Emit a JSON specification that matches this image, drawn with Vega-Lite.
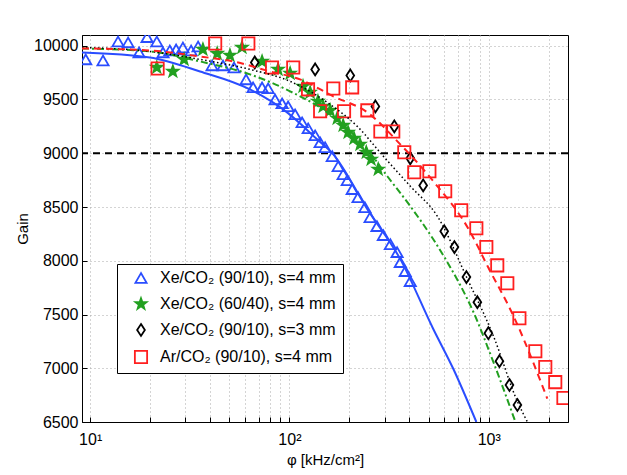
{
  "$schema": "https://vega.github.io/schema/vega-lite/v6.json",
  "width": 486,
  "height": 387,
  "autosize": {"type": "none"},
  "padding": {"left": 82, "top": 35, "right": 59, "bottom": 53},
  "background": "white",
  "config": {
    "font": "Liberation Sans",
    "view": {"stroke": "black", "strokeWidth": 1},
    "axis": {
      "labelFont": "Liberation Sans",
      "titleFont": "Liberation Sans",
      "labelFontSize": 16,
      "titleFontSize": 15,
      "titleFontWeight": "normal",
      "labelColor": "black",
      "titleColor": "black",
      "domainColor": "black",
      "tickColor": "black",
      "tickSize": -5,
      "gridColor": "#a8a8a8",
      "gridDash": [1, 3],
      "gridWidth": 1
    },
    "legend": {
      "labelFont": "Liberation Sans",
      "labelFontSize": 16,
      "labelColor": "black",
      "labelLimit": 400,
      "orient": "none",
      "legendX": 35,
      "legendY": 229,
      "fillColor": "white",
      "strokeColor": "black",
      "padding": 6,
      "rowPadding": 7,
      "symbolOffset": 10,
      "labelOffset": 11,
      "symbolStrokeWidth": 1.8
    }
  },
  "datasets": {
    "pts": [
      {"series": "A", "phi": 9.5, "gain": 9873},
      {"series": "A", "phi": 11.6, "gain": 9863},
      {"series": "A", "phi": 13.8, "gain": 10040},
      {"series": "A", "phi": 15.5, "gain": 10031},
      {"series": "A", "phi": 17.6, "gain": 9938},
      {"series": "A", "phi": 19.3, "gain": 10080},
      {"series": "A", "phi": 21.6, "gain": 10040},
      {"series": "A", "phi": 23.2, "gain": 9938},
      {"series": "A", "phi": 25.1, "gain": 9956},
      {"series": "A", "phi": 27.0, "gain": 9966},
      {"series": "A", "phi": 29.2, "gain": 9984},
      {"series": "A", "phi": 32.1, "gain": 9956},
      {"series": "A", "phi": 34.8, "gain": 9993},
      {"series": "A", "phi": 40.9, "gain": 9817},
      {"series": "A", "phi": 46.4, "gain": 9817},
      {"series": "A", "phi": 52.7, "gain": 9798},
      {"series": "A", "phi": 60.6, "gain": 9687},
      {"series": "A", "phi": 65.7, "gain": 9613},
      {"series": "A", "phi": 72.9, "gain": 9613},
      {"series": "A", "phi": 78.2, "gain": 9604},
      {"series": "A", "phi": 84.7, "gain": 9501},
      {"series": "A", "phi": 91.9, "gain": 9464},
      {"series": "A", "phi": 98.5, "gain": 9436},
      {"series": "A", "phi": 106.8, "gain": 9362},
      {"series": "A", "phi": 115.8, "gain": 9288},
      {"series": "A", "phi": 124.2, "gain": 9232},
      {"series": "A", "phi": 134.6, "gain": 9167},
      {"series": "A", "phi": 142.6, "gain": 9102},
      {"series": "A", "phi": 151, "gain": 9056},
      {"series": "A", "phi": 164, "gain": 8972},
      {"series": "A", "phi": 175.6, "gain": 8879},
      {"series": "A", "phi": 186, "gain": 8805},
      {"series": "A", "phi": 195, "gain": 8749},
      {"series": "A", "phi": 206.5, "gain": 8666},
      {"series": "A", "phi": 221, "gain": 8591},
      {"series": "A", "phi": 239, "gain": 8498},
      {"series": "A", "phi": 254, "gain": 8405},
      {"series": "A", "phi": 275, "gain": 8322},
      {"series": "A", "phi": 296, "gain": 8238},
      {"series": "A", "phi": 321, "gain": 8154},
      {"series": "A", "phi": 347, "gain": 8080},
      {"series": "A", "phi": 360, "gain": 7987},
      {"series": "A", "phi": 381, "gain": 7903},
      {"series": "A", "phi": 404, "gain": 7810},
      {"series": "B", "phi": 21.6, "gain": 9798},
      {"series": "B", "phi": 26.0, "gain": 9761},
      {"series": "B", "phi": 29.6, "gain": 9873},
      {"series": "B", "phi": 36.8, "gain": 9966},
      {"series": "B", "phi": 43.4, "gain": 9928},
      {"series": "B", "phi": 50.3, "gain": 9910},
      {"series": "B", "phi": 57.8, "gain": 9984},
      {"series": "B", "phi": 72.9, "gain": 9854},
      {"series": "B", "phi": 87.7, "gain": 9780},
      {"series": "B", "phi": 100.8, "gain": 9743},
      {"series": "B", "phi": 117, "gain": 9622},
      {"series": "B", "phi": 127, "gain": 9566},
      {"series": "B", "phi": 139, "gain": 9483},
      {"series": "B", "phi": 147.6, "gain": 9436},
      {"series": "B", "phi": 160, "gain": 9399},
      {"series": "B", "phi": 173.6, "gain": 9325},
      {"series": "B", "phi": 186, "gain": 9260},
      {"series": "B", "phi": 197, "gain": 9195},
      {"series": "B", "phi": 211, "gain": 9139},
      {"series": "B", "phi": 226, "gain": 9083},
      {"series": "B", "phi": 243, "gain": 9009},
      {"series": "B", "phi": 257, "gain": 8944},
      {"series": "B", "phi": 279, "gain": 8851},
      {"series": "C", "phi": 67, "gain": 9845},
      {"series": "C", "phi": 134.6, "gain": 9780},
      {"series": "C", "phi": 202, "gain": 9724},
      {"series": "C", "phi": 270, "gain": 9436},
      {"series": "C", "phi": 336, "gain": 9250},
      {"series": "C", "phi": 404, "gain": 8953},
      {"series": "C", "phi": 469, "gain": 8701},
      {"series": "C", "phi": 598, "gain": 8274},
      {"series": "C", "phi": 673, "gain": 8127},
      {"series": "C", "phi": 773, "gain": 7848},
      {"series": "C", "phi": 877, "gain": 7615},
      {"series": "C", "phi": 996, "gain": 7326},
      {"series": "C", "phi": 1132, "gain": 7066},
      {"series": "C", "phi": 1271, "gain": 6844},
      {"series": "C", "phi": 1393, "gain": 6658},
      {"series": "D", "phi": 21.8, "gain": 9789},
      {"series": "D", "phi": 42.4, "gain": 10021},
      {"series": "D", "phi": 62.2, "gain": 10021},
      {"series": "D", "phi": 81.8, "gain": 9798},
      {"series": "D", "phi": 104.5, "gain": 9798},
      {"series": "D", "phi": 124, "gain": 9594},
      {"series": "D", "phi": 142.6, "gain": 9390},
      {"series": "D", "phi": 166, "gain": 9603},
      {"series": "D", "phi": 188, "gain": 9390},
      {"series": "D", "phi": 206.5, "gain": 9613},
      {"series": "D", "phi": 246, "gain": 9399},
      {"series": "D", "phi": 286, "gain": 9203},
      {"series": "D", "phi": 332, "gain": 9203},
      {"series": "D", "phi": 377, "gain": 9009},
      {"series": "D", "phi": 423, "gain": 8824},
      {"series": "D", "phi": 504, "gain": 8833},
      {"series": "D", "phi": 605, "gain": 8647},
      {"series": "D", "phi": 728, "gain": 8470},
      {"series": "D", "phi": 867, "gain": 8303},
      {"series": "D", "phi": 973, "gain": 8127},
      {"series": "D", "phi": 1104, "gain": 7957},
      {"series": "D", "phi": 1240, "gain": 7790},
      {"series": "D", "phi": 1426, "gain": 7465},
      {"series": "D", "phi": 1714, "gain": 7159},
      {"series": "D", "phi": 1923, "gain": 7011},
      {"series": "D", "phi": 2158, "gain": 6871},
      {"series": "D", "phi": 2371, "gain": 6723}
    ],
    "fits": [
      {"fit": "A", "phi": 9.1, "gain": 9938},
      {"fit": "A", "phi": 19.95, "gain": 9891},
      {"fit": "A", "phi": 35.6, "gain": 9761},
      {"fit": "A", "phi": 63.4, "gain": 9594},
      {"fit": "A", "phi": 97.3, "gain": 9380},
      {"fit": "A", "phi": 137.7, "gain": 9130},
      {"fit": "A", "phi": 166, "gain": 8990},
      {"fit": "A", "phi": 246, "gain": 8480},
      {"fit": "A", "phi": 360, "gain": 8015},
      {"fit": "A", "phi": 527, "gain": 7365},
      {"fit": "A", "phi": 664, "gain": 6995},
      {"fit": "A", "phi": 867, "gain": 6500},
      {"fit": "B", "phi": 9.1, "gain": 9975},
      {"fit": "B", "phi": 19.95, "gain": 9947},
      {"fit": "B", "phi": 35.6, "gain": 9854},
      {"fit": "B", "phi": 63.4, "gain": 9734},
      {"fit": "B", "phi": 100.8, "gain": 9576},
      {"fit": "B", "phi": 160, "gain": 9361},
      {"fit": "B", "phi": 246, "gain": 9036},
      {"fit": "B", "phi": 310, "gain": 8786},
      {"fit": "B", "phi": 404, "gain": 8508},
      {"fit": "B", "phi": 527, "gain": 8200},
      {"fit": "B", "phi": 620, "gain": 7987},
      {"fit": "B", "phi": 838, "gain": 7523},
      {"fit": "B", "phi": 1055, "gain": 7059},
      {"fit": "B", "phi": 1362, "gain": 6500},
      {"fit": "C", "phi": 9.1, "gain": 9984},
      {"fit": "C", "phi": 19.95, "gain": 9947},
      {"fit": "C", "phi": 35.6, "gain": 9873},
      {"fit": "C", "phi": 63.4, "gain": 9780},
      {"fit": "C", "phi": 100.8, "gain": 9669},
      {"fit": "C", "phi": 160, "gain": 9454},
      {"fit": "C", "phi": 219, "gain": 9250},
      {"fit": "C", "phi": 296, "gain": 8972},
      {"fit": "C", "phi": 404, "gain": 8694},
      {"fit": "C", "phi": 552, "gain": 8415},
      {"fit": "C", "phi": 782, "gain": 7830},
      {"fit": "C", "phi": 1056, "gain": 7300},
      {"fit": "C", "phi": 1394, "gain": 6690},
      {"fit": "C", "phi": 1565, "gain": 6500},
      {"fit": "D", "phi": 9.1, "gain": 9975},
      {"fit": "D", "phi": 19.95, "gain": 9956},
      {"fit": "D", "phi": 35.6, "gain": 9900},
      {"fit": "D", "phi": 52.2, "gain": 9854},
      {"fit": "D", "phi": 80, "gain": 9761},
      {"fit": "D", "phi": 113, "gain": 9687},
      {"fit": "D", "phi": 166, "gain": 9530},
      {"fit": "D", "phi": 246, "gain": 9380},
      {"fit": "D", "phi": 360, "gain": 9083},
      {"fit": "D", "phi": 527, "gain": 8740},
      {"fit": "D", "phi": 809, "gain": 8266},
      {"fit": "D", "phi": 985, "gain": 7953},
      {"fit": "D", "phi": 1330, "gain": 7488},
      {"fit": "D", "phi": 1968, "gain": 6718}
    ]
  },
  "encoding": {
    "x": {
      "field": "phi",
      "type": "quantitative",
      "scale": {"type": "log", "domain": [9.1, 2500], "nice": false},
      "axis": {
        "title": "φ [kHz/cm²]",
        "values": [10, 20, 30, 40, 50, 60, 70, 80, 90, 100, 200, 300, 400, 500, 600, 700, 800, 900, 1000, 2000],
        "labelExpr": "datum.value == 10 ? '10¹' : datum.value == 100 ? '10²' : datum.value == 1000 ? '10³' : ''",
        "labelPadding": 14,
        "titlePadding": 5,
        "labelFlush": false,
        "labelOverlap": false
      }
    },
    "y": {
      "field": "gain",
      "type": "quantitative",
      "scale": {"domain": [6500, 10100], "nice": false, "zero": false},
      "axis": {
        "title": "Gain",
        "values": [6500, 7000, 7500, 8000, 8500, 9000, 9500, 10000],
        "format": "d",
        "labelPadding": 9,
        "titlePadding": 3
      }
    }
  },
  "layer": [
    {
      "data": {"values": [{"g": 9000}]},
      "mark": {"type": "rule", "color": "black", "strokeWidth": 2, "strokeDash": [7, 5]},
      "encoding": {"y": {"field": "g", "type": "quantitative"}, "x": null}
    },
    {
      "data": {"name": "pts"},
      "mark": {"type": "point", "strokeWidth": 1.8, "opacity": 1, "clip": true},
      "encoding": {
        "shape": {
          "field": "series", "type": "nominal", "title": null,
          "scale": {
            "domain": ["A", "B", "C", "D"],
            "range": ["triangle-up", "M0,-1L0.235,-0.324L0.951,-0.309L0.38,0.124L0.588,0.809L0,0.4L-0.588,0.809L-0.38,0.124L-0.951,-0.309L-0.235,-0.324Z", "M0,-1L0.65,0L0,1L-0.65,0Z", "square"]
          },
          "legend": {
            "labelExpr": "datum.value == 'A' ? 'Xe/CO₂ (90/10), s=4 mm' : datum.value == 'B' ? 'Xe/CO₂ (60/40), s=4 mm' : datum.value == 'C' ? 'Xe/CO₂ (90/10), s=3 mm' : 'Ar/CO₂  (90/10), s=4 mm'"
          }
        },
        "stroke": {
          "field": "series", "type": "nominal", "title": null,
          "scale": {"domain": ["A", "B", "C", "D"], "range": ["#2a4dff", "#22a020", "#000000", "#ff1f1f"]}
        },
        "fill": {
          "field": "series", "type": "nominal", "title": null,
          "scale": {"domain": ["A", "B", "C", "D"], "range": ["transparent", "#22a020", "transparent", "transparent"]}
        },
        "size": {
          "field": "series", "type": "nominal", "title": null,
          "scale": {"domain": ["A", "B", "C", "D"], "range": [125, 150, 40, 80]}
        }
      }
    },
    {
      "data": {"name": "fits"},
      "transform": [{"filter": "datum.fit == 'A'"}],
      "mark": {"type": "line", "color": "#2a4dff", "strokeWidth": 2, "interpolate": "monotone", "clip": true}
    },
    {
      "data": {"name": "fits"},
      "transform": [{"filter": "datum.fit == 'B'"}],
      "mark": {"type": "line", "color": "#22a020", "strokeWidth": 2, "strokeDash": [7, 3, 2, 3], "interpolate": "monotone", "clip": true}
    },
    {
      "data": {"name": "fits"},
      "transform": [{"filter": "datum.fit == 'C'"}],
      "mark": {"type": "line", "color": "black", "strokeWidth": 1.5, "strokeDash": [1.5, 2.5], "interpolate": "monotone", "clip": true}
    },
    {
      "data": {"name": "fits"},
      "transform": [{"filter": "datum.fit == 'D'"}],
      "mark": {"type": "line", "color": "#ff1f1f", "strokeWidth": 2, "strokeDash": [7, 5], "interpolate": "monotone", "clip": true}
    }
  ]
}
